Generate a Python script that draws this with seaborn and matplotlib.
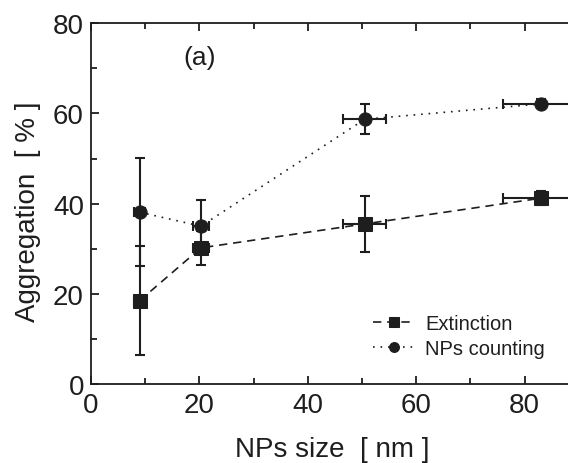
import matplotlib
matplotlib.use('Agg')
import matplotlib.pyplot as plt
from matplotlib.ticker import MultipleLocator
import seaborn as sns
import pandas as pd

# data
size_nm = [9.0, 20.3, 50.5, 83.0]
size_err = [1.0, 1.5, 4.0, 7.0]
extinction = [18.5, 30.2, 35.5, 41.2]
extinction_err = [12.0, 3.7, 6.3, 1.5]
counting = [38.1, 35.0, 58.7, 62.1]
counting_err = [12.0, 5.7, 3.3, 1.0]

sns.set_style('ticks')
plt.rcParams['font.family'] = ['Liberation Sans', 'DejaVu Sans']

df = pd.DataFrame({
    'size': size_nm * 2,
    'agg': extinction + counting,
    'method': ['Extinction'] * 4 + ['NPs counting'] * 4,
})

ink = '#1e1e1e'

fig = plt.figure(figsize=(5.68, 4.64), dpi=100)
ax = fig.add_axes([0.160, 0.170, 0.84, 0.778])

# error bars first so markers sit on top
ax.errorbar(size_nm, extinction, xerr=size_err, yerr=extinction_err, fmt='none',
            ecolor=ink, elinewidth=1.5, capsize=3.5, capthick=1.5, zorder=2)
ax.errorbar(size_nm, counting, xerr=size_err, yerr=counting_err, fmt='none',
            ecolor=ink, elinewidth=1.5, capsize=3.5, capthick=1.5, zorder=2)

sns.lineplot(data=df, x='size', y='agg', style='method', markers={'Extinction': 's', 'NPs counting': 'o'},
             dashes={'Extinction': (5, 3.5), 'NPs counting': (1, 3.5)}, color=ink,
             markersize=9.5, linewidth=1.2, markeredgecolor=ink, ax=ax, zorder=3)

ax.set_xlim(0, 88)
ax.set_ylim(0, 80)
ax.xaxis.set_major_locator(MultipleLocator(20))
ax.xaxis.set_minor_locator(MultipleLocator(10))
ax.yaxis.set_major_locator(MultipleLocator(20))
ax.yaxis.set_minor_locator(MultipleLocator(10))
ax.tick_params(which='both', direction='in', top=True, right=False, labelsize=20, colors=ink)
ax.tick_params(axis='y', pad=5)
ax.tick_params(axis='x', pad=6)
ax.tick_params(which='major', length=6, width=1.3)
ax.tick_params(which='minor', length=4, width=1.3)
ax.spines['right'].set_visible(False)
for s in ['left', 'bottom', 'top']:
    ax.spines[s].set_linewidth(1.3)
    ax.spines[s].set_color(ink)

ax.set_xlabel('NPs size  [ nm ]', fontsize=20, color=ink)
ax.set_ylabel('Aggregation  [ % ]', fontsize=20, color=ink)
ax.xaxis.set_label_coords(0.506, -0.145)
ax.yaxis.set_label_coords(-0.104, 0.479)
ax.text(20, 72.6, '(a)', fontsize=19, ha='center', va='center', color=ink)

leg = ax.legend(loc='lower right', bbox_to_anchor=(0.99, 0.022), frameon=False, fontsize=14.5,
                handlelength=2.1, handletextpad=0.5, labelspacing=0.3, markerscale=0.75,
                labelcolor=ink)
leg.set_title(None)

fig.savefig('out.png', dpi=100)
